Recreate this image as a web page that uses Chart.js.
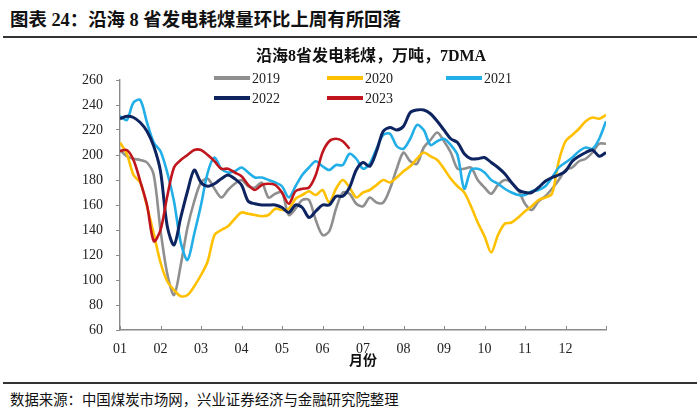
<!DOCTYPE html>
<html>
<head>
<meta charset="utf-8">
<script src="https://cdn.jsdelivr.net/npm/chart.js@4.4.1/dist/chart.umd.min.js"></script>
<style>
    body { margin: 0; width: 700px; height: 411px; background: #fff; position: relative; overflow: hidden;
           font-family: "Liberation Serif", "Noto Sans CJK SC", serif; color: #111; }
    #pageTitle { position: absolute; left: 10px; top: 5px; font-size: 18.4px; font-weight: bold; white-space: nowrap; }
    .rule { position: absolute; left: 3px; width: 694px; height: 2px; background: #333; }
    #chartBox { position: absolute; left: 0; top: 40px; width: 700px; height: 335px; }
    #source { position: absolute; left: 10px; top: 388px; font-size: 14.4px; white-space: nowrap; }
</style>
</head>
<body>
<div id="pageTitle">图表 24：沿海 8 省发电耗煤量环比上周有所回落</div>
<div class="rule" style="top:36px"></div>
<div id="chartBox"><canvas id="coalChart" width="700" height="335"></canvas></div>
<div class="rule" style="top:382px; height:1.5px"></div>
<div id="source">数据来源：中国煤炭市场网，兴业证券经济与金融研究院整理</div>

<script>
// ------------ DATA (one point every ~5 days, 6 points per month) -------------
const chartTitle = "沿海8省发电耗煤，万吨，7DMA";
const axisTitle = "月份";
const monthLabels = ["01", "02", "03", "04", "05", "06", "07", "08", "09", "10", "11", "12"];
const yTicks = [60, 80, 100, 120, 140, 160, 180, 200, 220, 240, 260];
const seriesNames = ["2019", "2020", "2021", "2022", "2023"];

const coal2019 = [204, 199, 197, 196, 194, 184, 140, 105, 88, 112, 142, 163, 178, 181, 173, 166, 172, 177, 180, 175,
    174, 178, 166, 169, 170, 152, 157, 164, 164, 148, 136, 139, 157, 170, 169, 161, 159, 166, 162, 162,
    173, 189, 202, 195, 193, 206, 212, 218, 211, 202, 189, 189, 190, 180, 174, 169, 176, 180, 178, 172,
    161, 156, 163, 167, 173, 180, 188, 190, 195, 197, 202, 209, 209];
const coal2020 = [210, 201, 184, 178, 159, 137, 114, 99, 92, 87, 88, 95, 104, 115, 136, 140, 143, 149, 154, 153,
    152, 151, 152, 157, 156, 157, 165, 168, 171, 168, 172, 162, 173, 180, 174, 166, 170, 172, 176, 180,
    178, 182, 187, 191, 197, 202, 199, 196, 189, 181, 175, 170, 159, 146, 135, 122, 136, 145, 146, 150,
    155, 159, 164, 166, 169, 195, 211, 216, 221, 227, 230, 229, 232];
const coal2021 = [231, 228, 242, 244, 226, 210, 203, 186, 163, 130, 116, 137, 160, 186, 198, 189, 186, 187, 190, 186,
    182, 182, 180, 178, 175, 166, 175, 184, 190, 195, 191, 188, 192, 192, 201, 197, 189, 193, 205, 216,
    217, 207, 205, 213, 224, 220, 208, 211, 213, 208, 200, 173, 188, 189, 186, 180, 177, 173, 170, 168,
    168, 171, 172, 175, 182, 190, 194, 198, 203, 206, 205, 213, 227];
const coal2022 = [229, 231, 230, 226, 219, 207, 187, 143, 128, 150, 171, 188, 178, 175, 177, 181, 184, 181, 176, 163,
    161, 160, 160, 160, 158, 154, 160, 158, 150, 155, 160, 160, 167, 167, 174, 188, 194, 191, 203, 219,
    222, 220, 223, 234, 236, 236, 233, 227, 220, 213, 210, 201, 197, 197, 198, 194, 190, 185, 178, 172,
    170, 170, 174, 179, 182, 184, 187, 195, 199, 202, 204, 199, 202];
const coal2023 = [203, 204, 196, 179, 160, 131, 140, 167, 190, 196, 200, 204, 204, 200, 195, 189, 189, 186, 183, 176,
    172, 176, 177, 176, 170, 161, 171, 173, 174, 184, 202, 211, 213, 211, 205];

const seriesColors = ["#8f8f8f", "#ffc000", "#22aee6", "#0d2461", "#c0151d"];

// x grid: index of the 5-day step, month n starts at (n-1)*6
const xSteps = Array.from({ length: coal2019.length }, (_, i) => i);

// ================== OVERLAY: titles, legend, inner x ticks ==================
const overlayPlugin = {
    id: "overlay",
    afterDraw(chart) {
        const ctx = chart.ctx;
        const xs = chart.scales.x;
        const area = chart.chartArea;
        ctx.save();

        // x tick marks pointing up into the plot
        ctx.strokeStyle = "#8a8a8a";
        ctx.lineWidth = 1;
        for (let m = 0; m <= monthLabels.length; m++) {
            const px = Math.round(xs.getPixelForValue(m * 6)) + 0.5;
            ctx.beginPath();
            ctx.moveTo(px, area.bottom);
            ctx.lineTo(px, area.bottom - 4);
            ctx.stroke();
        }

        // chart title
        ctx.fillStyle = "#111";
        ctx.textAlign = "center";
        ctx.textBaseline = "middle";
        ctx.font = 'bold 16px "Liberation Serif", "Noto Sans CJK SC"';
        ctx.fillText(chartTitle, 371, 17);

        // axis title
        ctx.font = 'bold 14px "Liberation Serif", "Noto Sans CJK SC"';
        ctx.fillText(axisTitle, (area.left + area.right) / 2, 321);

        // legend, 3 per row
        const cols = [214, 327, 446];
        const rows = [38, 58];
        ctx.font = '14px "Liberation Serif"';
        ctx.textAlign = "left";
        seriesNames.forEach((name, i) => {
            const lx = cols[i % 3];
            const ly = rows[Math.floor(i / 3)];
            ctx.strokeStyle = seriesColors[i];
            ctx.lineWidth = 4;
            ctx.beginPath();
            ctx.moveTo(lx, ly);
            ctx.lineTo(lx + 36, ly);
            ctx.stroke();
            ctx.fillStyle = "#222";
            ctx.fillText(name, lx + 38, ly + 1);
        });
        ctx.restore();
    }
};

const allSeries = [coal2019, coal2020, coal2021, coal2022, coal2023];

new Chart(document.getElementById("coalChart"), {
    type: "line",
    data: {
        labels: xSteps,
        datasets: allSeries.map((vals, i) => ({
            label: seriesNames[i],
            data: vals,
            borderColor: seriesColors[i],
            backgroundColor: seriesColors[i],
            borderWidth: i === 3 ? 3 : 2.6,
            pointRadius: 0,
            tension: 0.3,
            fill: false,
            order: allSeries.length - i
        }))
    },
    options: {
        responsive: false,
        animation: false,
        layout: { padding: { top: 40, right: 94, left: 0, bottom: 0 } },
        plugins: {
            legend: { display: false },
            title: { display: false },
            tooltip: { enabled: false }
        },
        scales: {
            x: {
                type: "linear",
                min: 0,
                max: 72,
                afterFit: (scale) => { scale.height = 45; },
                afterBuildTicks: (scale) => {
                    scale.ticks = monthLabels.map((_, m) => ({ value: m * 6 }));
                },
                grid: { display: true, drawOnChartArea: false, drawTicks: false },
                border: { display: true, color: "#8a8a8a", width: 1.4 },
                ticks: {
                    padding: 11,
                    maxRotation: 0,
                    autoSkip: false,
                    color: "#222",
                    font: { family: "Liberation Serif", size: 14 },
                    callback: (v) => monthLabels[v / 6]
                }
            },
            y: {
                min: 60,
                max: 260,
                afterFit: (scale) => { scale.width = 120; },
                afterBuildTicks: (scale) => {
                    scale.ticks = yTicks.map(v => ({ value: v }));
                },
                grid: { display: true, drawOnChartArea: false, drawTicks: true, tickLength: 4, color: "#8a8a8a" },
                border: { display: true, color: "#8a8a8a", width: 1.4 },
                ticks: {
                    padding: 13,
                    color: "#222",
                    font: { family: "Liberation Serif", size: 14 }
                }
            }
        }
    },
    plugins: [overlayPlugin]
});
</script>
</body>
</html>
